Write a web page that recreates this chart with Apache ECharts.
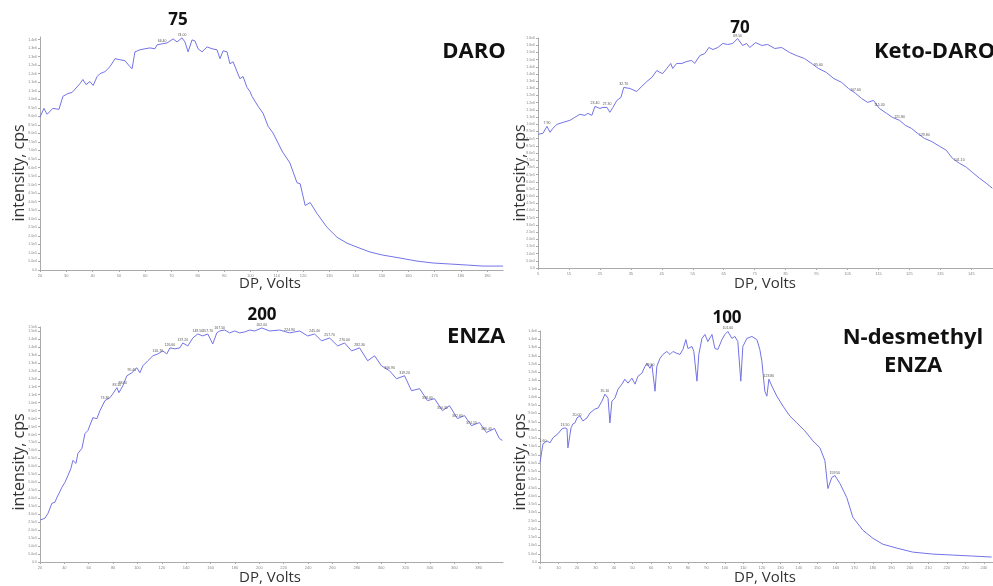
<!DOCTYPE html>
<html>
<head>
<meta charset="utf-8">
<script src="https://cdn.jsdelivr.net/npm/echarts@6/dist/echarts.min.js"></script>
<style>html,body{margin:0;padding:0;background:#fff}#c{width:993px;height:586px}</style>
</head>
<body>
<div id="c"></div>
<script>
// ---- DATA (DP in volts, intensity in thousand cps) ----
const daroDP = [20,21.5,22.7,24.9,27.2,28.7,30.6,32.2,35.2,36.3,37.5,39,40.2,41.7,42.8,44.7,46.6,48.5,50.4,52.3,54.2,55,56.1,58,59.9,61.8,63.7,64.5,66.4,68.3,70.6,72.1,74,75.1,76.3,77.8,78.9,80.1,81.6,83.5,85.4,87.3,88.4,89.6,91.1,92.2,93.4,94.9,96,97.2,98.7,99.8,100.6,102.9,104.8,106.7,108.6,110.5,112,115,117.7,118.9,120.8,122.7,125.3,129.1,132.9,136.7,140.5,145.5,150.4,156.9,163.3,169.4,175.9,182.4,188.4,194.9,196];
const daroInt = [895,947,912,947,941,1017,1034,1040,1092,1116,1086,1104,1081,1133,1150,1162,1191,1238,1232,1226,1191,1179,1278,1290,1296,1301,1296,1319,1325,1330,1354,1336,1360,1336,1278,1348,1342,1296,1278,1307,1296,1290,1238,1284,1278,1208,1220,1162,1121,1133,1069,1046,1017,959,918,842,802,744,697,627,511,505,378,395,331,250,192,157,134,105,87,70,52,41,35,29,23,23,23];
const daroLabelDP = [66.4,74.0];

const ketoDP = [5,6.6,7.9,8.9,9.8,11.1,13.1,15.3,16.9,18.5,20.2,21.1,22.4,23.4,25,26,27.3,28.2,29.2,30.5,31.8,32.7,34.7,36.9,38.5,40.2,41.8,43.4,44.4,45.3,46.6,47.9,48.5,49.8,51.5,53.1,54.7,55.6,57.3,58.9,60.2,61.5,63.1,64.7,66.3,67.9,69.5,71.1,72.4,73.4,75.3,77.3,79.2,81.5,83.7,86.3,88.5,91.1,93.4,95.6,98.2,100.5,103.1,105.3,107.6,109.5,111.5,113.4,115.3,117.6,119.5,121.8,123.7,125.6,127.6,129.8,132.1,134.7,136.9,138.9,141.1,143.4,145.3,147.6,149.8,151.8];
const ketoInt = [930,937,985,944,972,999,1013,1027,1048,1069,1062,1076,1062,1124,1110,1117,1117,1083,1117,1166,1187,1256,1249,1228,1263,1298,1326,1374,1360,1353,1388,1423,1388,1423,1423,1437,1444,1423,1478,1492,1534,1520,1534,1562,1555,1562,1596,1548,1562,1534,1568,1548,1555,1527,1534,1499,1478,1457,1423,1388,1360,1319,1291,1249,1215,1180,1152,1166,1110,1076,1048,1027,992,972,937,902,881,847,819,763,729,701,666,625,590,555];
const ketoLabelDP = [7.9,23.4,27.3,32.7,69.5,95.6,107.6,115.3,121.8,129.8,141.1];

const enzaDP = [20,24.1,26.6,29.8,32.3,33.9,35.6,38,40.5,43,45.4,47,49.5,51.1,54.4,56.9,59.3,63.4,66.7,69.2,73.3,77.4,79.8,83.1,84.8,88,91.3,95.4,99.5,102,104.4,108.5,112.6,116.7,120.8,124.1,126.6,130.7,134.8,137.2,141.3,145.4,149.5,153.6,157.7,161.8,165.1,167.5,171.6,175.7,179.8,183.9,188,192.1,196.2,202,208.5,216.7,224.9,233.1,239.7,245.4,251.1,257.7,264.3,270,275.7,282.3,288.9,294.6,300.3,306.9,312.6,319.2,324.9,331.5,338,343.8,350.3,356.1,362.6,368.4,374.1,380.7,386.4,393,397,399.5];
const enzaInt = [263,275,306,369,375,406,431,469,500,544,588,638,619,681,713,806,825,906,900,950,1013,1031,1056,1094,1063,1106,1169,1188,1219,1188,1231,1263,1294,1306,1325,1306,1344,1338,1344,1375,1356,1406,1431,1419,1431,1369,1438,1450,1456,1438,1450,1438,1444,1456,1450,1469,1450,1456,1438,1450,1419,1431,1388,1406,1356,1375,1325,1344,1263,1294,1231,1200,1150,1169,1075,1088,1013,1025,950,981,900,919,856,875,813,838,775,763];
const enzaLabelDP = [73.3,83.1,88,95.4,116.7,126.6,137.2,149.5,157.7,167.5,202,224.9,245.4,257.7,270,282.3,306.9,319.2,338,350.3,362.6,374.1,386.4];

const ndesDP = [0,1.6,3.8,5.4,7,9.7,11.9,13.5,14.6,15.1,16.8,17.8,18.9,20,21.6,23.2,25.4,27,29.7,31.4,33.5,35.1,36.8,37.8,38.9,40.5,42.2,44.3,45.9,47.6,49.7,51.4,53,55.1,56.8,57.8,59.5,60.5,62.2,63.2,64.9,66.5,68.6,70.3,71.9,74.1,75.7,77.3,78.9,80,82.2,83.2,84.3,84.9,85.9,87.6,89.2,90.8,93,94.6,96.2,98.4,100,101.6,103.8,105.4,107,108.6,109.7,111.9,114.6,117.3,118.9,120,121.6,122.7,123.8,125.4,128.1,131.4,135.1,138.9,143.2,147.6,151.4,154.1,155.7,157.8,159.5,162.2,165.9,169.2,174.6,180,185.4,193,201.6,212.4,223.2,234,244.3];
const ndesInt = [602,716,734,722,753,777,807,813,807,692,813,837,843,873,885,855,873,903,927,933,975,1017,993,843,975,993,1047,1078,1108,1084,1114,1078,1126,1144,1186,1204,1174,1198,1035,1186,1234,1258,1276,1258,1276,1264,1258,1288,1348,1294,1306,1276,1156,1096,1258,1355,1379,1336,1379,1294,1288,1348,1379,1397,1355,1367,1336,1096,1306,1355,1367,1348,1288,1216,1035,1005,1108,1066,1005,945,885,843,795,734,692,614,445,512,524,476,391,271,193,144,108,84,60,48,42,36,30];
const ndesLabelDP = [1.6,13.5,20,35.1,59.5,101.6,123.8,159.5];

const peakTitles = ['75','70','200','100'];
const compoundNames = ['DARO','Keto-DARO','ENZA','N-desmethyl\nENZA'];
const xAxisName = 'DP, Volts';
const yAxisName = 'intensity, cps';

// ---- BUILD ----
const LINE = '#7373e6';
const FONT = "'Open Sans', 'Noto Sans', sans-serif";
const grids = [
  {left:40, top:37, width:463, height:233},
  {left:538, top:38, width:455, height:230},
  {left:40, top:327, width:463, height:235},
  {left:540, top:331, width:453, height:231}
];
const xr = [[20,196,10],[5,152,10],[20,400,20],[0,245,10]];
const yr = [[0,1365,50],[0,1600,50],[0,1475,50],[0,1400,50]];
const sets = [[daroDP,daroInt,daroLabelDP],[ketoDP,ketoInt,ketoLabelDP],[enzaDP,enzaInt,enzaLabelDP],[ndesDP,ndesInt,ndesLabelDP]];

function yfmt(v){ if(v===0) return '0.0'; return (v*1000).toExponential(1).replace('+',''); }

const xAxes = [], yAxes = [], series = [];
sets.forEach((s,i)=>{
  xAxes.push({type:'value', gridIndex:i, min:xr[i][0], max:xr[i][1], interval:xr[i][2],
    axisLine:{lineStyle:{color:'#aaa', width:1}}, axisTick:{length:2, lineStyle:{color:'#aaa'}},
    axisLabel:{fontSize:4, color:'#888', margin:4, showMaxLabel:false}, splitLine:{show:false}});
  yAxes.push({type:'value', gridIndex:i, min:yr[i][0], max:yr[i][1], interval:yr[i][2],
    axisLine:{show:true, lineStyle:{color:'#aaa', width:1}}, axisTick:{show:true, length:2, lineStyle:{color:'#aaa'}},
    axisLabel:{fontSize:3.5, color:'#888', margin:3, formatter:yfmt}, splitLine:{show:false}});
  const data = s[0].map((x,k)=>[x, s[1][k]]);
  const mp = s[2].map(dp=>{
    let best=0; s[0].forEach((x,k)=>{ if(Math.abs(x-dp)<Math.abs(s[0][best]-dp)) best=k; });
    return {coord:[s[0][best], s[1][best]], value:s[0][best].toFixed(2)};
  });
  series.push({type:'line', xAxisIndex:i, yAxisIndex:i, data, showSymbol:false, symbol:'none',
    lineStyle:{color:LINE, width:1}, animation:false, silent:true,
    markPoint:{symbol:'circle', symbolSize:0, silent:true, animation:false, data:mp,
      label:{show:true, position:'top', distance:1, fontSize:3.5, color:'#555', formatter:p=>p.value}}});
});

const graphic = [];
const yNamePos = [[19,173],[520,173],[19,462],[520,462]];
const xNamePos = [[270,284],[765,284],[270,578],[765,578]];
const titlePos = [[178,20],[740,28],[262,315],[727,318]];
yNamePos.forEach(p=>graphic.push({type:'text', x:p[0], y:p[1], rotation:Math.PI/2,
  style:{text:yAxisName, textAlign:'center', textVerticalAlign:'middle', font:'16px '+FONT, fill:'#333'}}));
xNamePos.forEach(p=>graphic.push({type:'text', x:p[0], y:p[1],
  style:{text:xAxisName, textAlign:'center', textVerticalAlign:'middle', font:'15px '+FONT, fill:'#333'}}));
titlePos.forEach((p,i)=>graphic.push({type:'text', x:p[0], y:p[1],
  style:{text:peakTitles[i], textAlign:'center', textVerticalAlign:'middle', font:'bold 17px '+FONT, fill:'#111'}}));
graphic.push({type:'text', x:474, y:52, style:{text:compoundNames[0], textAlign:'center', textVerticalAlign:'middle', font:'bold 22px '+FONT, fill:'#111'}});
graphic.push({type:'text', x:874, y:52, style:{text:compoundNames[1], textAlign:'left', textVerticalAlign:'middle', font:'bold 22px '+FONT, fill:'#111'}});
graphic.push({type:'text', x:476, y:337, style:{text:compoundNames[2], textAlign:'center', textVerticalAlign:'middle', font:'bold 22px '+FONT, fill:'#111'}});
compoundNames[3].split('\n').forEach((t,k)=>graphic.push({type:'text', x:913, y:338+k*28,
  style:{text:t, textAlign:'center', textVerticalAlign:'middle', font:'bold 22px '+FONT, fill:'#111'}}));

const chart = echarts.init(document.getElementById('c'), null, {renderer:'canvas'});
chart.setOption({backgroundColor:'#fff', animation:false, grid:grids, xAxis:xAxes, yAxis:yAxes, series, graphic});
</script>
</body>
</html>
